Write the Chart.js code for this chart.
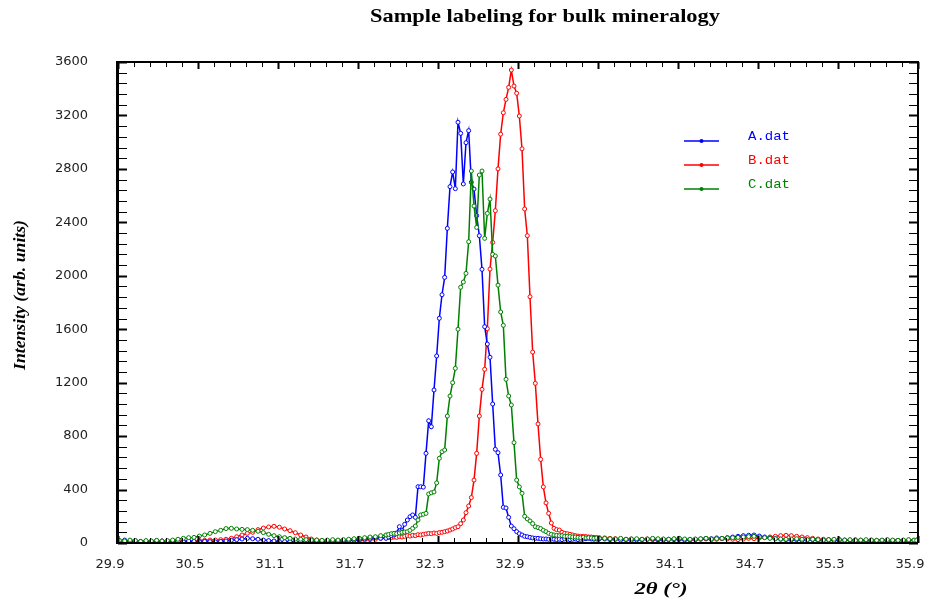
<!DOCTYPE html>
<html><head><meta charset="utf-8">
<script src="https://cdn.jsdelivr.net/npm/chart.js@4.4.1/dist/chart.umd.min.js"></script>
<style>html,body{margin:0;padding:0;background:#fff}#wrap{position:relative;width:925px;height:601px}</style>
</head><body><div id="wrap"><canvas id="c"></canvas></div>
<script>
const chartTitle = 'Sample labeling for bulk mineralogy';
const xAxisTitle = '2\u03B8 (\u00B0)';
const yAxisTitle = 'Intensity (arb. units)';
const seriesNames = ['A.dat', 'B.dat', 'C.dat'];
const seriesColors = ['#0000ff', '#ff0000', '#008000'];
const xTickValues = [29.9, 30.5, 31.1, 31.7, 32.3, 32.9, 33.5, 34.1, 34.7, 35.3, 35.9];
const yTickValues = [0, 400, 800, 1200, 1600, 2000, 2400, 2800, 3200, 3600];

const twoTheta = [
29.91, 29.95, 29.99, 30.03, 30.07, 30.11, 30.15, 30.19, 30.23, 30.27,
30.31, 30.35, 30.39, 30.43, 30.47, 30.51, 30.55, 30.59, 30.63, 30.67,
30.71, 30.75, 30.79, 30.83, 30.87, 30.91, 30.95, 30.99, 31.03, 31.07,
31.11, 31.15, 31.19, 31.23, 31.27, 31.31, 31.35, 31.39, 31.43, 31.47,
31.51, 31.55, 31.59, 31.63, 31.67, 31.71, 31.75, 31.79, 31.83, 31.87,
31.91, 31.93, 31.95, 31.97, 31.99, 32.01, 32.03, 32.05, 32.07, 32.09,
32.11, 32.13, 32.15, 32.17, 32.19, 32.21, 32.23, 32.25, 32.27, 32.29,
32.31, 32.33, 32.35, 32.37, 32.39, 32.41, 32.43, 32.45, 32.47, 32.49,
32.51, 32.53, 32.55, 32.57, 32.59, 32.61, 32.63, 32.65, 32.67, 32.69,
32.71, 32.73, 32.75, 32.77, 32.79, 32.81, 32.83, 32.85, 32.87, 32.89,
32.91, 32.93, 32.95, 32.97, 32.99, 33.01, 33.03, 33.05, 33.07, 33.09,
33.11, 33.13, 33.15, 33.17, 33.19, 33.21, 33.23, 33.25, 33.27, 33.29,
33.31, 33.33, 33.35, 33.37, 33.39, 33.41, 33.43, 33.45, 33.47, 33.49,
33.51,
33.55, 33.59, 33.63, 33.67, 33.71, 33.75, 33.79, 33.83, 33.87, 33.91,
33.95, 33.99, 34.03, 34.07, 34.11, 34.15, 34.19, 34.23, 34.27, 34.31,
34.35, 34.39, 34.43, 34.47, 34.51, 34.55, 34.59, 34.63, 34.67, 34.71,
34.75, 34.79, 34.83, 34.87, 34.91, 34.95, 34.99, 35.03, 35.07, 35.11,
35.15, 35.19, 35.23, 35.27, 35.31, 35.35, 35.39, 35.43, 35.47, 35.51,
35.55, 35.59, 35.63, 35.67, 35.71, 35.75, 35.79, 35.83, 35.87, 35.89
];

const intensityA = [
15, 22, 12, 18, 10, 15, 12, 18, 15, 10,
15, 12, 10, 15, 12, 10, 12, 10, 8, 12,
15, 20, 25, 30, 35, 32, 28, 22, 18, 15,
12, 10, 12, 10, 8, 10, 12, 10, 12, 15,
12, 15, 18, 20, 22, 25, 30, 35, 40, 35,
35, 45, 55, 60, 75, 122, 92, 140, 172, 197,
210, 192, 421, 421, 418, 671, 915, 870, 1145, 1400,
1682, 1858, 1988, 2355, 2667, 2777, 2652, 3149, 3066, 2687,
2996, 3086, 2700, 2649, 2450, 2300, 2048, 1619, 1489, 1390,
1040, 701, 676, 509, 267, 262, 192, 127, 107, 85,
70, 60, 50, 47, 42, 38, 35, 35, 32, 30,
30, 28, 30, 28, 25, 28, 25, 30, 28, 25,
28, 30, 25, 28, 30, 32, 35, 30, 28, 30,
32,
30, 25, 28, 22, 25, 20, 22, 25, 28, 30,
25, 22, 28, 25, 30, 22, 25, 28, 30, 35,
32, 38, 35, 40, 45, 50, 55, 58, 60, 52,
45, 38, 32, 28, 25, 22, 25, 20, 22, 25,
18, 20, 22, 18, 20, 22, 18, 15, 20, 18,
15, 18, 20, 15, 18, 20, 15, 18, 20, 22
];

const intensityB = [
12, 10, 15, 10, 12, 8, 12, 10, 15, 12,
10, 15, 12, 15, 12, 18, 20, 22, 22, 25,
28, 35, 47, 60, 72, 80, 100, 112, 120, 125,
118, 105, 92, 77, 60, 45, 30, 22, 18, 15,
15, 18, 15, 17, 20, 18, 22, 25, 28, 35,
38, 42, 40, 45, 42, 48, 45, 50, 55, 52,
58, 55, 62, 60, 65, 68, 72, 70, 75, 72,
78, 80, 85, 90, 97, 105, 115, 122, 145, 172,
227, 277, 340, 471, 671, 950, 1150, 1300, 1604, 2050,
2250, 2487, 2800, 3060, 3220, 3320, 3410, 3540, 3420, 3366,
3196, 2950, 2500, 2300, 1843, 1429, 1195, 891, 626, 420,
300, 222, 150, 110, 100, 97, 80, 72, 70, 65,
60, 55, 52, 50, 50, 48, 45, 45, 42, 40,
40,
38, 35, 32, 30, 28, 30, 25, 28, 30, 25,
22, 28, 25, 30, 28, 25, 22, 25, 28, 30,
25, 28, 32, 30, 28, 25, 30, 35, 32, 38,
40, 45, 50, 55, 58, 55, 50, 45, 40, 35,
30, 28, 25, 22, 25, 20, 22, 25, 20, 18,
22, 20, 18, 22, 20, 18, 20, 22, 18, 20
];

const intensityC = [
20, 15, 22, 18, 12, 18, 15, 20, 15, 18,
22, 28, 35, 40, 42, 52, 60, 72, 85, 95,
108, 110, 105, 102, 100, 95, 88, 78, 65, 55,
47, 40, 35, 30, 28, 25, 22, 22, 20, 22,
25, 22, 25, 28, 32, 35, 40, 45, 47, 55,
60, 65, 70, 72, 70, 75, 80, 82, 85, 95,
110, 127, 172, 210, 215, 222, 367, 376, 382, 450,
634, 683, 696, 950, 1100, 1200, 1307, 1600, 1914, 1953,
2018, 2255, 2784, 2522, 2362, 2754, 2784, 2280, 2467, 2574,
2160, 2148, 1930, 1729, 1629, 1225, 1100, 1033, 751, 471,
420, 372, 200, 180, 165, 145, 122, 115, 108, 95,
85, 72, 65, 60, 58, 55, 55, 50, 50, 48,
45, 45, 42, 40, 42, 38, 40, 38, 35, 38,
35,
35, 32, 30, 35, 28, 30, 32, 28, 30, 35,
32, 30, 28, 32, 35, 30, 28, 30, 32, 35,
30, 32, 35, 38, 40, 42, 45, 48, 50, 45,
40, 35, 32, 30, 28, 30, 32, 28, 25, 28,
25, 22, 25, 28, 25, 22, 25, 20, 22, 25,
22, 20, 22, 25, 22, 20, 22, 25, 22, 20
];

const seriesValues = [intensityA, intensityB, intensityC];
const seriesOrder = [1, 2, 0];

function scaledText(ctx, text, cx, cy, font, color, targetW, rotate) {
  ctx.save();
  ctx.font = font;
  const w = ctx.measureText(text).width;
  const s = targetW / w;
  ctx.translate(cx, cy);
  if (rotate) ctx.rotate(-Math.PI / 2);
  ctx.scale(s, 1);
  ctx.textAlign = 'center';
  ctx.textBaseline = 'middle';
  ctx.fillStyle = color;
  ctx.fillText(text, 0, 0);
  ctx.restore();
}

const decor = {
  id: 'decor',
  afterDatasetsDraw(chart) {
    const ctx = chart.ctx;
    const xs = chart.scales.x, ys = chart.scales.y;
    const { left, right, top, bottom } = chart.chartArea;
    ctx.save();
    ctx.strokeStyle = '#000';
    // minor/major ticks on x (bottom and top), inward
    const xMinor = 0.12;
    for (let k = 0; k <= 50; k++) {
      const v = xTickValues[0] + k * xMinor;
      const px = Math.round(xs.getPixelForValue(v)) + 0.5;
      const major = k % 5 === 0;
      ctx.lineWidth = major ? 2 : 1;
      const len = major ? 7 : 5;
      ctx.beginPath();
      ctx.moveTo(px, bottom); ctx.lineTo(px, bottom - len);
      ctx.moveTo(px, top); ctx.lineTo(px, top + len);
      ctx.stroke();
    }
    const yMinor = 80;
    for (let k = 0; k <= 45; k++) {
      const v = k * yMinor;
      const py = Math.round(ys.getPixelForValue(v)) + 0.5;
      const major = k % 5 === 0;
      ctx.lineWidth = major ? 2 : 1;
      const len = 9;
      ctx.beginPath();
      ctx.moveTo(left, py); ctx.lineTo(left + len, py);
      ctx.moveTo(right, py); ctx.lineTo(right - len, py);
      ctx.stroke();
    }
    // frame
    ctx.lineWidth = 2;
    ctx.beginPath();
    ctx.moveTo(left, top); ctx.lineTo(right, top); ctx.lineTo(right, bottom);
    ctx.stroke();
    ctx.lineWidth = 2;
    ctx.beginPath();
    ctx.moveTo(left - 1, bottom); ctx.lineTo(right, bottom);
    ctx.stroke();
    ctx.lineWidth = 3;
    ctx.beginPath();
    ctx.moveTo(left - 0.5, top - 1); ctx.lineTo(left - 0.5, bottom + 1);
    ctx.stroke();

    // legend
    const legendY = [141, 165, 189];
    seriesNames.forEach((name, i) => {
      const y = legendY[i];
      ctx.strokeStyle = seriesColors[i];
      ctx.lineWidth = 1.5;
      ctx.beginPath(); ctx.moveTo(684, y); ctx.lineTo(719, y); ctx.stroke();
      ctx.fillStyle = seriesColors[i];
      ctx.beginPath(); ctx.arc(701.5, y, 2, 0, Math.PI * 2); ctx.fill();
      ctx.save();
      ctx.font = '13px "Liberation Mono"';
      const w = ctx.measureText(name).width;
      ctx.translate(748, y - 1);
      ctx.scale(42 / w, 1);
      ctx.textAlign = 'left';
      ctx.textBaseline = 'alphabetic';
      ctx.fillText(name, 0, 0);
      ctx.restore();
    });
    ctx.restore();

    scaledText(ctx, chartTitle, 545, 17, 'bold 19px "Liberation Serif"', '#000', 350, false);
    scaledText(ctx, xAxisTitle, 661, 590, 'bold italic 17px "Liberation Serif"', '#000', 53, false);
    scaledText(ctx, yAxisTitle, 21, 295, 'bold italic 16px "Liberation Serif"', '#000', 150, true);
  }
};

const datasets = seriesNames.map((name, i) => ({
  label: name,
  data: twoTheta.map((t, j) => ({ x: t, y: seriesValues[i][j] })),
  borderColor: seriesColors[i],
  backgroundColor: seriesColors[i],
  borderWidth: 1.5,
  pointRadius: 2,
  pointBorderWidth: 1,
  pointBackgroundColor: '#ffffff',
  pointBorderColor: seriesColors[i],
  tension: 0,
  fill: false,
  order: seriesOrder[i]
}));

new Chart(document.getElementById('c'), {
  type: 'line',
  data: { datasets },
  plugins: [decor],
  options: {
    responsive: true,
    maintainAspectRatio: false,
    animation: false,
    layout: { padding: { top: 62, right: 7, left: 0, bottom: 0 } },
    plugins: { legend: { display: false }, title: { display: false }, tooltip: { enabled: false } },
    scales: {
      x: {
        type: 'linear',
        min: xTickValues[0],
        max: xTickValues[xTickValues.length - 1],
        grid: { display: false, drawTicks: false },
        border: { display: false },
        afterBuildTicks(scale) { scale.ticks = xTickValues.map(v => ({ value: v })); },
        afterFit(scale) { scale.height = 58; scale.paddingLeft = 0; scale.paddingRight = 0; },
        ticks: {
          padding: 14,
          labelOffset: -8,
          maxRotation: 0,
          autoSkip: false,
          color: '#222',
          font: { family: 'DejaVu Sans', size: 13 },
          callback: (v) => Number(v).toFixed(1)
        }
      },
      y: {
        type: 'linear',
        min: yTickValues[0],
        max: yTickValues[yTickValues.length - 1],
        grid: { display: false, drawTicks: false },
        border: { display: false },
        afterBuildTicks(scale) { scale.ticks = yTickValues.map(v => ({ value: v })); },
        afterFit(scale) { scale.width = 118; scale.paddingTop = 0; scale.paddingBottom = 0; },
        ticks: {
          padding: 30,
          autoSkip: false,
          color: '#222',
          font: { family: 'DejaVu Sans', size: 13 },
          callback: (v) => String(v)
        }
      }
    }
  }
});
</script>
</body></html>
